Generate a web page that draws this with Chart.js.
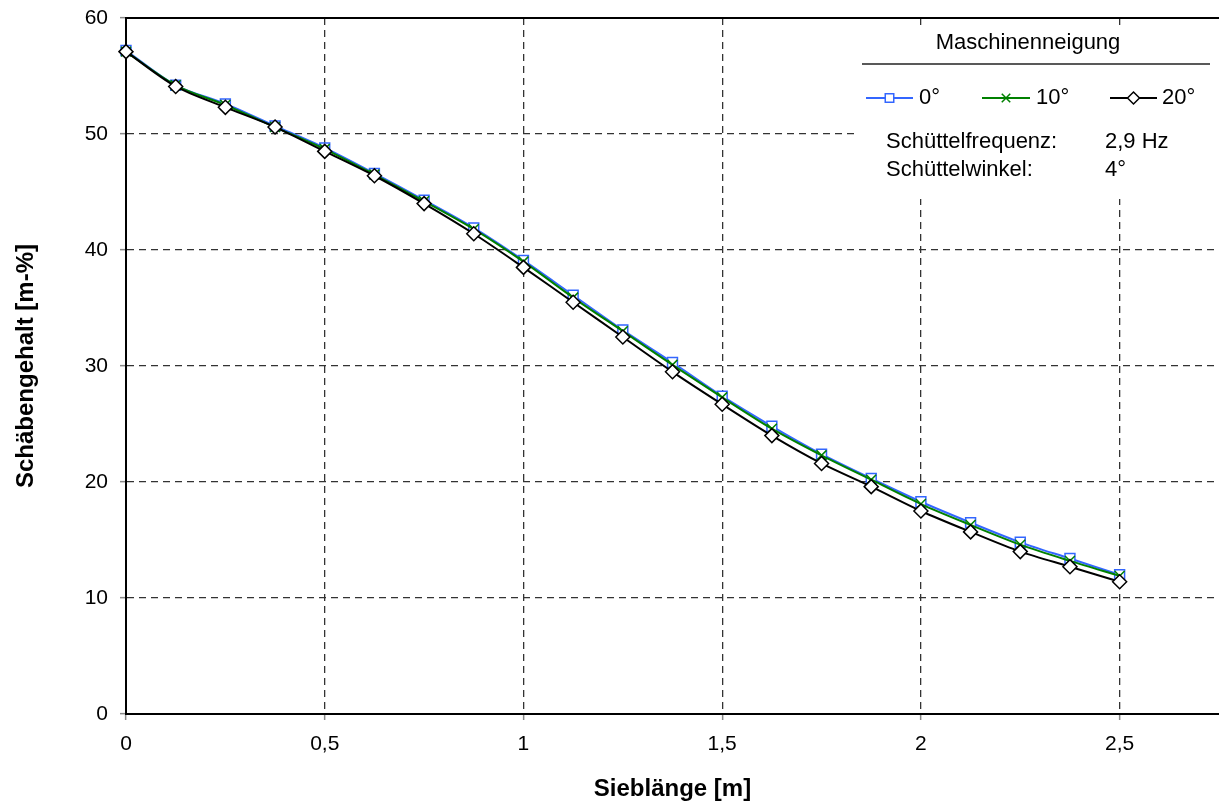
<!DOCTYPE html>
<html lang="de">
<head>
<meta charset="utf-8">
<title>Schäbengehalt über Sieblänge</title>
<script src="https://cdn.jsdelivr.net/npm/chart.js@4.4.1/dist/chart.umd.min.js"></script>
<style>
    html, body { margin: 0; padding: 0; background: #fff; }
    #wrap { width: 1219px; height: 807px; position: relative; }
</style>
</head>
<body>
<div id="wrap"><canvas id="grafico" width="1219" height="807"></canvas></div>
<script>
// Sieblänge [m]
const sieblaenge = [0, 0.125, 0.25, 0.375, 0.5, 0.625, 0.75, 0.875, 1, 1.125, 1.25,
    1.375, 1.5, 1.625, 1.75, 1.875, 2, 2.125, 2.25, 2.375, 2.5];

// Schäbengehalt [m-%] je Maschinenneigung
const neigung0 = [57.2, 54.2, 52.6, 50.7, 48.8, 46.6, 44.3, 41.9, 39.1, 36.1, 33.1,
    30.3, 27.4, 24.8, 22.4, 20.3, 18.3, 16.5, 14.8, 13.4, 12.0];
const neigung10 = [57.1, 54.2, 52.5, 50.6, 48.7, 46.5, 44.2, 41.8, 39.0, 35.9, 33.0,
    30.1, 27.3, 24.6, 22.3, 20.2, 18.1, 16.3, 14.6, 13.2, 11.9];
const neigung20 = [57.1, 54.1, 52.3, 50.6, 48.5, 46.4, 44.0, 41.4, 38.5, 35.5, 32.5,
    29.5, 26.7, 24.0, 21.6, 19.6, 17.5, 15.7, 14.0, 12.7, 11.4];

const xTicks = [0, 0.5, 1, 1.5, 2, 2.5];
const yTicks = [0, 10, 20, 30, 40, 50, 60];
const legendLabels = ['0°', '10°', '20°'];

const FONT = "Arial, 'Liberation Sans', sans-serif";

function toPoints(values) {
    return values.map((v, i) => ({ x: sieblaenge[i], y: v }));
}

function formatComma(value) {
    return String(value).replace('.', ',');
}

// Legendenkasten oben rechts + obere Rahmenlinie
const legendBox = {
    id: 'legendBox',
    afterDatasetsDraw(chart) {
        const ctx = chart.ctx;
        const area = chart.chartArea;
        ctx.save();

        ctx.strokeStyle = '#000';
        ctx.lineWidth = 2;
        ctx.beginPath();
        ctx.moveTo(area.left, area.top);
        ctx.lineTo(area.right, area.top);
        ctx.stroke();

        ctx.fillStyle = '#fff';
        ctx.fillRect(858, 26, 358, 173);

        ctx.fillStyle = '#000';
        ctx.font = '22px ' + FONT;
        ctx.textBaseline = 'middle';
        ctx.textAlign = 'center';
        ctx.fillText('Maschinenneigung', 1028, 43);

        ctx.strokeStyle = '#222';
        ctx.lineWidth = 1.5;
        ctx.beginPath();
        ctx.moveTo(862, 64);
        ctx.lineTo(1210, 64);
        ctx.stroke();

        const items = [
            { x0: 866, x1: 913, tx: 919 },
            { x0: 982, x1: 1030, tx: 1036 },
            { x0: 1110, x1: 1157, tx: 1162 }
        ];
        ctx.textAlign = 'left';
        items.forEach((it, i) => {
            const ds = chart.data.datasets[i];
            const y = 98;
            ctx.strokeStyle = ds.borderColor;
            ctx.lineWidth = 2;
            ctx.beginPath();
            ctx.moveTo(it.x0, y);
            ctx.lineTo(it.x1, y);
            ctx.stroke();
            ctx.fillStyle = '#fff';
            ctx.lineWidth = 1.5;
            Chart.helpers.drawPoint(ctx, {
                pointStyle: ds.pointStyle,
                radius: ds.pointRadius - 1,
                rotation: 0,
                borderWidth: 1.5
            }, (it.x0 + it.x1) / 2, y);
            ctx.fillStyle = '#000';
            ctx.fillText(legendLabels[i], it.tx, y);
        });

        ctx.fillText('Schüttelfrequenz:', 886, 142);
        ctx.fillText('2,9 Hz', 1105, 142);
        ctx.fillText('Schüttelwinkel:', 886, 170);
        ctx.fillText('4°', 1105, 170);

        ctx.restore();
    }
};

const gridOpts = {
    color: '#333',
    lineWidth: 1.3,
    tickLength: 6,
    tickColor: '#888',
    tickBorderDash: [],
    tickWidth: 1.5
};

const ctx = document.getElementById('grafico');

new Chart(ctx, {
    type: 'line',
    data: {
        datasets: [
            {
                label: legendLabels[0],
                data: toPoints(neigung0),
                borderColor: '#3366ff',
                backgroundColor: '#ffffff',
                pointStyle: 'rect',
                pointRadius: 7,
                pointBorderWidth: 1.5,
                borderWidth: 2,
                tension: 0.3,
                clip: false,
                order: 3
            },
            {
                label: legendLabels[1],
                data: toPoints(neigung10),
                borderColor: '#008000',
                backgroundColor: '#ffffff',
                pointStyle: 'crossRot',
                pointRadius: 7,
                pointBorderWidth: 1.5,
                borderWidth: 2,
                tension: 0.3,
                clip: false,
                order: 2
            },
            {
                label: legendLabels[2],
                data: toPoints(neigung20),
                borderColor: '#000000',
                backgroundColor: '#ffffff',
                pointStyle: 'rectRot',
                pointRadius: 7,
                pointBorderWidth: 1.5,
                borderWidth: 2,
                tension: 0.3,
                clip: false,
                order: 1
            }
        ]
    },
    options: {
        responsive: false,
        animation: false,
        layout: { autoPadding: false, padding: { top: 18, right: 0, left: 0, bottom: 0 } },
        plugins: {
            legend: { display: false },
            tooltip: { enabled: false }
        },
        scales: {
            x: {
                type: 'linear',
                min: 0,
                max: 2.75,
                afterFit: scale => {
                    scale.height = 93;
                    scale.paddingLeft = 0;
                    scale.paddingRight = 0;
                },
                afterBuildTicks: scale => {
                    scale.ticks = xTicks.map(v => ({ value: v }));
                },
                ticks: {
                    autoSkip: false,
                    maxRotation: 0,
                    padding: 12,
                    color: '#000',
                    font: { family: FONT, size: 21 },
                    callback: value => formatComma(value)
                },
                grid: gridOpts,
                border: { color: '#000', width: 2, dash: [7, 5] },
                title: {
                    display: true,
                    text: 'Sieblänge [m]',
                    color: '#000',
                    font: { family: FONT, size: 24, weight: 'bold' },
                    padding: { top: 0, bottom: 3 }
                }
            },
            y: {
                min: 0,
                max: 60,
                afterFit: scale => {
                    scale.width = 126;
                    scale.paddingTop = 0;
                    scale.paddingBottom = 0;
                },
                afterBuildTicks: scale => {
                    scale.ticks = yTicks.map(v => ({ value: v }));
                },
                ticks: {
                    padding: 12,
                    color: '#000',
                    font: { family: FONT, size: 21 }
                },
                grid: gridOpts,
                border: { color: '#000', width: 2, dash: [7, 5] },
                title: {
                    display: true,
                    text: 'Schäbengehalt [m-%]',
                    color: '#000',
                    font: { family: FONT, size: 24, weight: 'bold' },
                    padding: { top: 12, bottom: 0 }
                }
            }
        }
    },
    plugins: [legendBox]
});
</script>
</body>
</html>
